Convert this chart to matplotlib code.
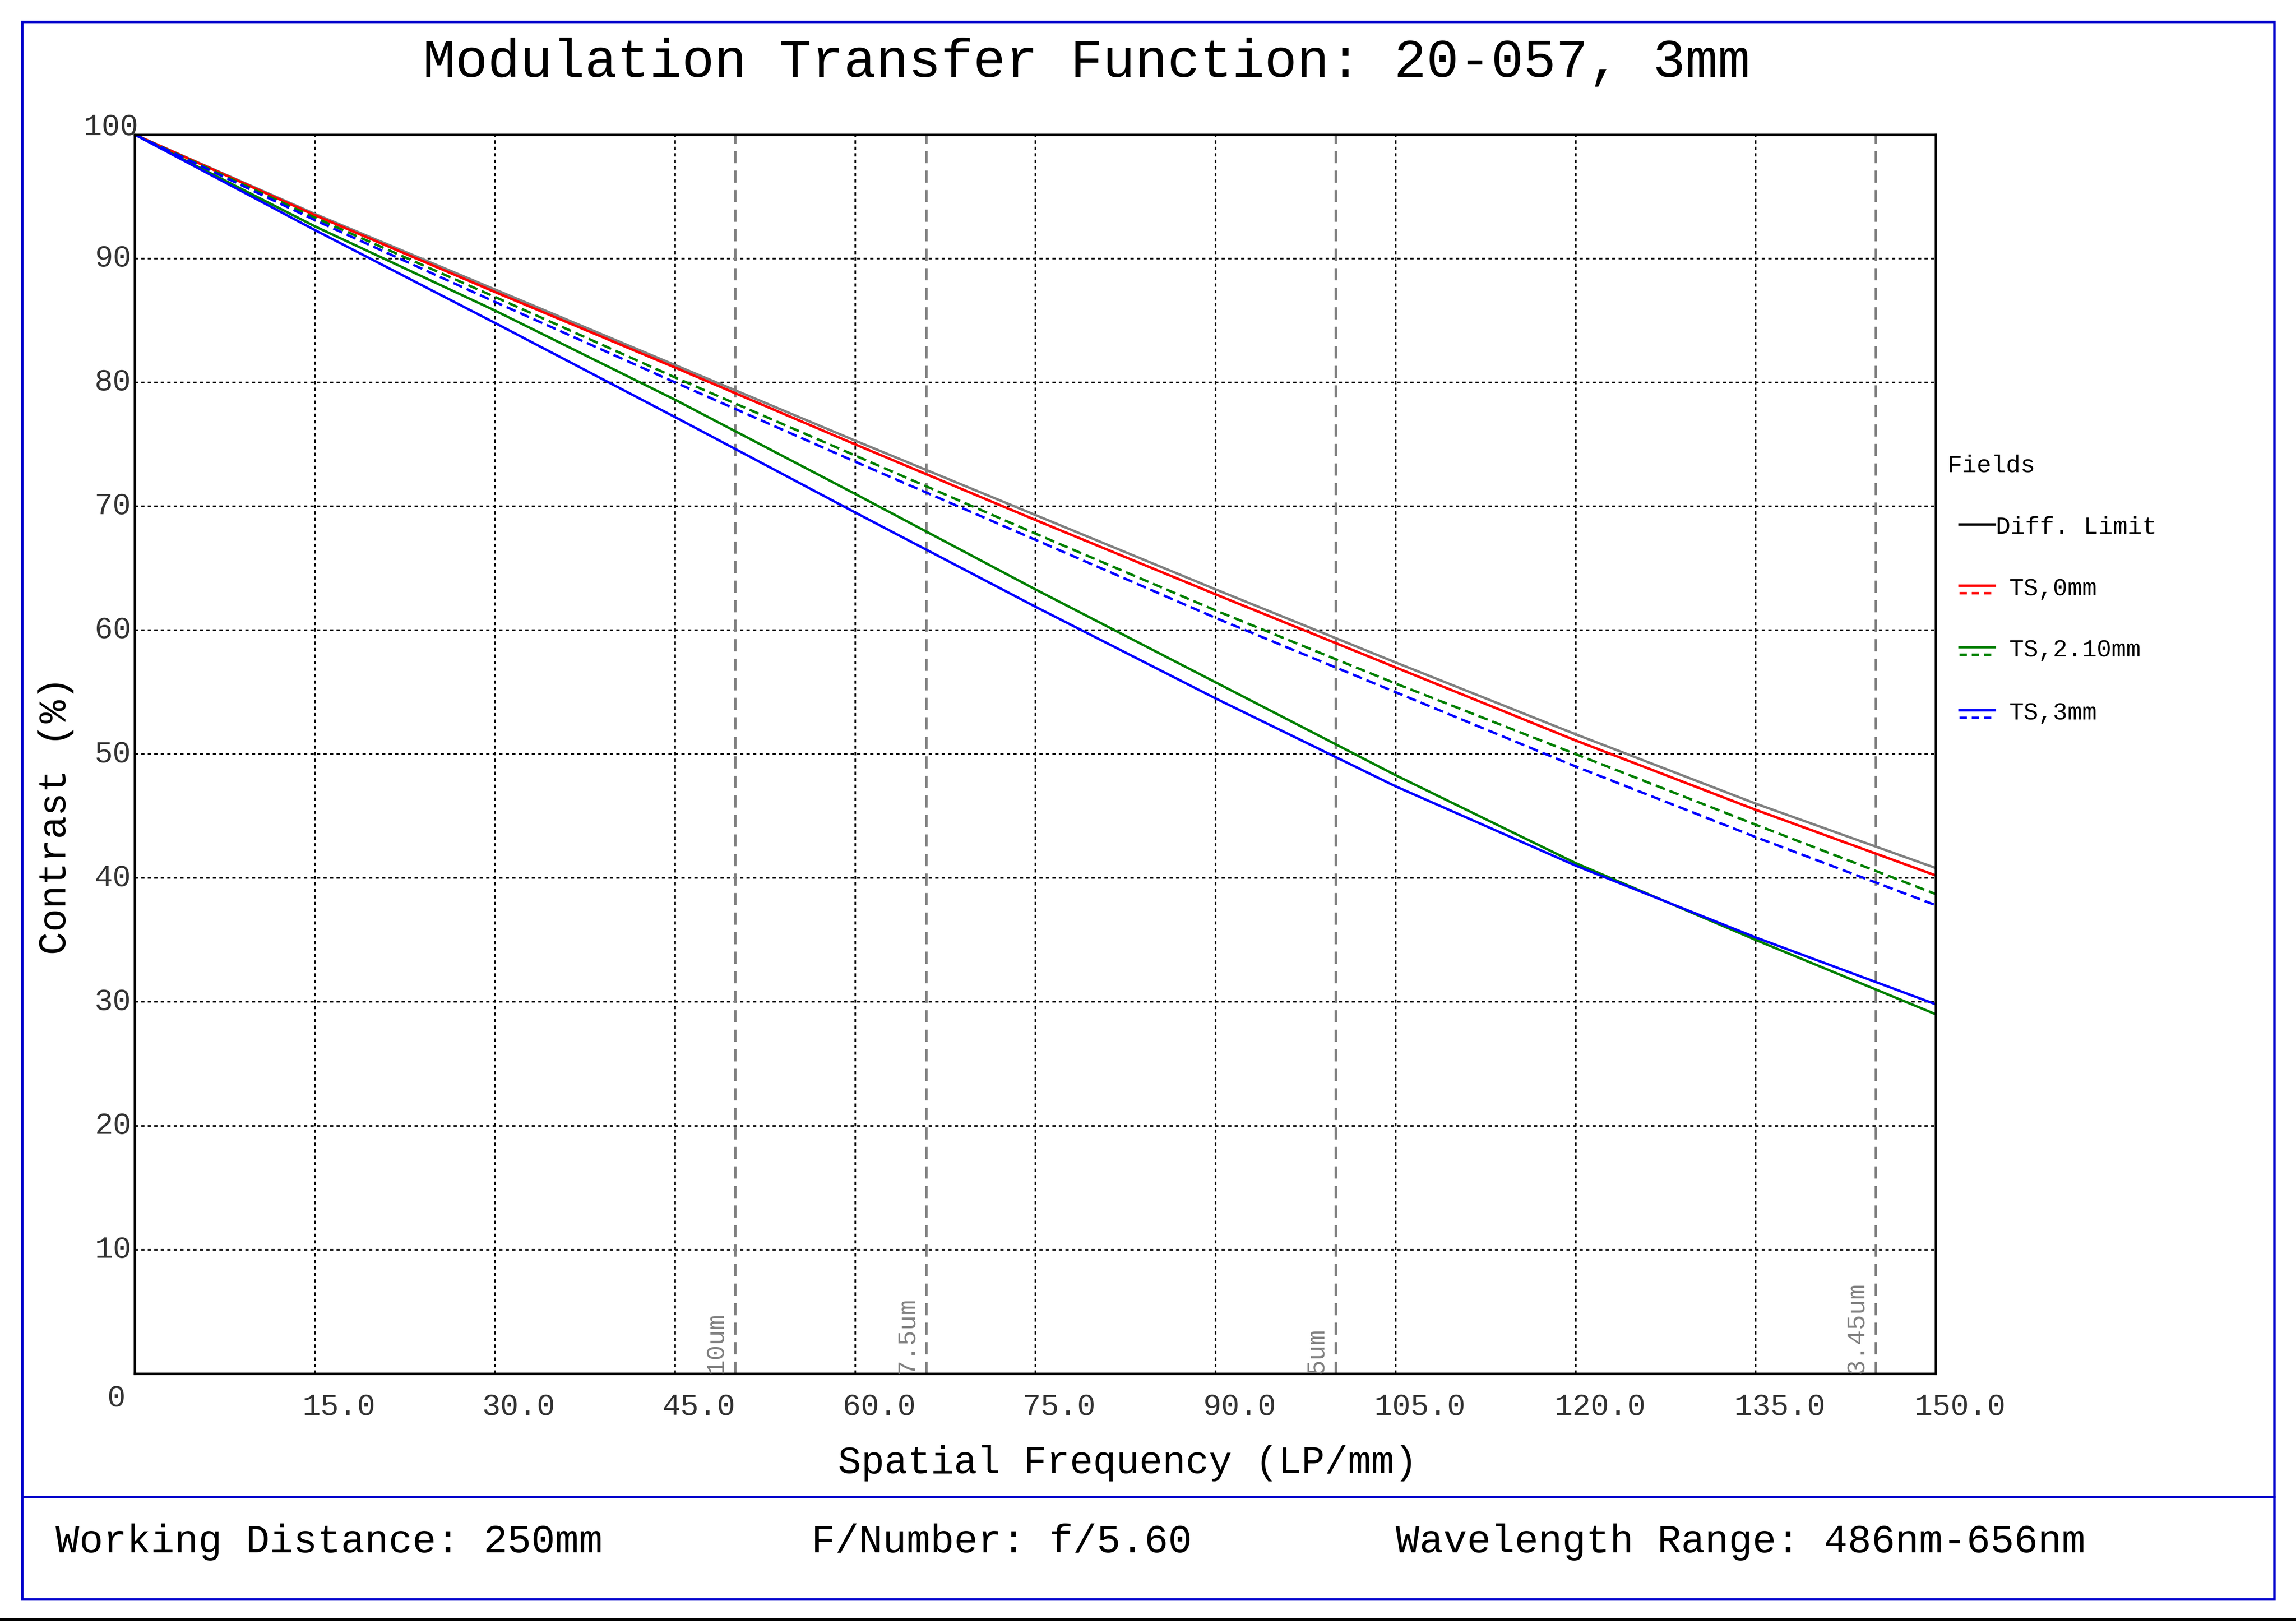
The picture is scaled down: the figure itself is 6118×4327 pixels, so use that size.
import matplotlib.pyplot as plt
from matplotlib.lines import Line2D
from matplotlib.patches import Rectangle

plt.rcParams['font.family'] = 'Liberation Mono'

freq = [0, 15, 30, 45, 60, 75, 90, 105, 120, 135, 150]
diff_limit = [100, 93.6, 87.5, 81.4, 75.3, 69.3, 63.3, 57.4, 51.6, 46.0, 40.8]
ts0_t = [100, 93.5, 87.3, 81.2, 75.0, 68.9, 62.9, 57.0, 51.1, 45.5, 40.2]
ts0_s = [100, 93.5, 87.3, 81.2, 75.0, 68.9, 62.9, 57.0, 51.1, 45.5, 40.2]
ts210_t = [100, 92.6, 85.8, 78.6, 71.0, 63.3, 55.8, 48.3, 41.2, 35.0, 29.0]
ts210_s = [100, 93.3, 86.9, 80.4, 74.1, 67.8, 61.6, 55.7, 50.0, 44.3, 38.7]
ts3_t = [100, 92.3, 84.8, 77.2, 69.5, 61.9, 54.5, 47.4, 41.0, 35.2, 29.8]
ts3_s = [100, 93.1, 86.5, 80.0, 73.6, 67.3, 61.0, 55.0, 49.0, 43.3, 37.8]

pixel_freqs = [50.0, 65.9, 100.0, 145.0]
pixel_labels = ['10um', '7.5um', '5um', '3.45um']

W, H = 1568, 1109
fig = plt.figure(figsize=(15.68, 11.09), dpi=390.2)

def fx(x):
    return x / W

def fy(y):
    return 1 - y / H

# borders
fig.add_artist(Rectangle((fx(15), fy(1092)), fx(1538), (1077) / H, fill=False,
                         edgecolor='#0000cc', lw=1.2))
fig.add_artist(Line2D([fx(15), fx(1553)], [fy(1022), fy(1022)], color='#0000cc', lw=1.2))
fig.add_artist(Line2D([0, 1], [fy(1106), fy(1106)], color='black', lw=1.5))

ax = fig.add_axes([fx(92), fy(938), fx(1230), (938 - 92) / H])
ax.set_xlim(0, 150)
ax.set_ylim(0, 100)

for x in range(15, 150, 15):
    ax.axvline(x, color='black', ls=(0, (2, 2)), lw=0.8)
for y in range(10, 100, 10):
    ax.axhline(y, color='black', ls=(0, (2, 2)), lw=0.8)

for x, lab in zip(pixel_freqs, pixel_labels):
    ax.axvline(x, color='gray', ls=(0, (5, 3)), lw=1.2)
    ax.text(x - 0.6, 0.0, lab, rotation=90, color='gray', fontsize=12.5,
            ha='right', va='bottom')

ax.plot(freq, diff_limit, color='gray', lw=1.2)
ax.plot(freq, ts0_s, color='red', lw=1.2, ls=(0, (4, 2)))
ax.plot(freq, ts0_t, color='red', lw=1.2)
ax.plot(freq, ts210_s, color='green', lw=1.2, ls=(0, (4, 2)))
ax.plot(freq, ts210_t, color='green', lw=1.2)
ax.plot(freq, ts3_s, color='blue', lw=1.2, ls=(0, (4, 2)))
ax.plot(freq, ts3_t, color='blue', lw=1.2)

ax.set_xticks([])
ax.set_yticks([])
for s in ax.spines.values():
    s.set_linewidth(1.2)

for y in range(10, 91, 10):
    ax.text(-0.3, y, str(y), ha='right', va='center', fontsize=15, color='#333333')
ax.text(0.3, 100.6, '100', ha='right', va='center', fontsize=15, color='#333333')
ax.text(-0.8, -2, '0', ha='right', va='center', fontsize=15, color='#333333')
for x in range(15, 151, 15):
    ax.text(x + 2, -2.7, f'{x:.1f}', ha='center', va='center', fontsize=15, color='#333333')

fig.text(fx(742), fy(43), 'Modulation Transfer Function: 20-057, 3mm', ha='center',
         va='center', fontsize=26.5)
fig.text(fx(770), fy(999), 'Spatial Frequency (LP/mm)', ha='center', va='center', fontsize=19)
fig.text(fx(38), fy(557), 'Contrast (%)', ha='center', va='center', fontsize=19, rotation=90)

fig.text(fx(38), fy(1053), 'Working Distance: 250mm', ha='left', va='center', fontsize=19.5)
fig.text(fx(554), fy(1053), 'F/Number: f/5.60', ha='left', va='center', fontsize=19.5)
fig.text(fx(953), fy(1053), 'Wavelength Range: 486nm-656nm', ha='left', va='center', fontsize=19.5)

# legend
fig.text(fx(1330), fy(318), 'Fields', ha='left', va='center', fontsize=12)
fig.add_artist(Line2D([fx(1338), fx(1362)], [fy(358), fy(358)], color='black', lw=1.2))
fig.text(fx(1363), fy(360), 'Diff. Limit', ha='left', va='center', fontsize=12)
entries = [('TS,0mm', 'red', 402), ('TS,2.10mm', 'green', 444), ('TS,3mm', 'blue', 487)]
for lab, c, y in entries:
    fig.add_artist(Line2D([fx(1338), fx(1362)], [fy(y - 2), fy(y - 2)], color=c, lw=1.2))
    fig.add_artist(Line2D([fx(1338), fx(1362)], [fy(y + 3), fy(y + 3)], color=c, lw=1.2,
                          ls=(0, (3, 2))))
    fig.text(fx(1372), fy(y), lab, ha='left', va='center', fontsize=12)

fig.savefig('out.png')
